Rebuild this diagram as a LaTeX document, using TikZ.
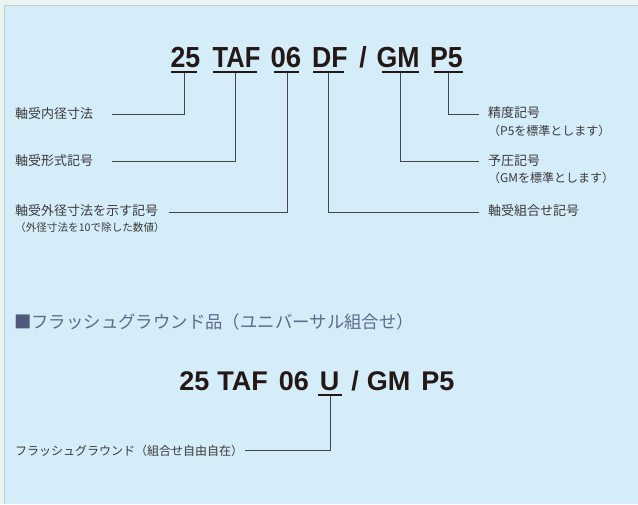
\documentclass[tikz,border=0pt]{standalone}
\usepackage{fontspec}
\newfontfamily\jp{Noto Sans CJK JP}
\newfontfamily\codef{Liberation Sans}
\definecolor{outc}{HTML}{EAF5F3}
\definecolor{panelc}{HTML}{D5ECF9}
\definecolor{borderc}{HTML}{C5CDCD}
\definecolor{inkc}{HTML}{231815}
\definecolor{labc}{HTML}{3A3A3A}
\definecolor{linec}{HTML}{454545}
\definecolor{headc}{HTML}{5D6B89}
\definecolor{sqc}{HTML}{4F5A7B}
\begin{document}
\begin{tikzpicture}[x=1pt,y=-1pt,
  lab/.style={anchor=west,inner sep=0pt,text=labc,font=\jp\fontsize{13}{15}\selectfont},
  sublab/.style={anchor=west,inner sep=0pt,text=labc,font=\jp\fontsize{12}{14}\selectfont},
  smalllab/.style={anchor=west,inner sep=0pt,text=labc,font=\jp\fontsize{10.6}{12}\selectfont},
  tok/.style={anchor=base,inner sep=0pt,text=inkc,font=\codef\bfseries\fontsize{29}{32}\selectfont},
  tokb/.style={anchor=base,inner sep=0pt,text=inkc,font=\codef\bfseries\fontsize{27}{30}\selectfont},
  conn/.style={draw=linec,line width=0.9pt},
  ul/.style={draw=inkc,line width=2pt}]
\useasboundingbox (0,0) rectangle (638,504);
\fill[outc] (0,0) rectangle (638,504);
\fill[panelc] (4,5) rectangle (638,504);
\draw[borderc,line width=1pt] (4.5,504) -- (4.5,5.5) -- (638,5.5);

% top code
\node[tok] (t25) at (185.5,67) {\scalebox{0.92}[1]{25}};
\node[tok] (tTAF) at (236.5,67) {\scalebox{0.88}[1]{TAF}};
\node[tok] (t06) at (286,67) {\scalebox{0.95}[1]{06}};
\node[tok] (tDF) at (330,67) {\scalebox{0.92}[1]{DF}};
\node[tok] (tsl) at (363,67) {\scalebox{0.92}[1]{/}};
\node[tok] (tGM) at (398,67) {\scalebox{0.92}[1]{GM}};
\node[tok] (tP5) at (446.5,67) {\scalebox{0.92}[1]{P5}};

\draw[ul] (171,72) -- (197,72);
\draw[ul] (213,72) -- (257,72);
\draw[ul] (274,72) -- (299,72);
\draw[ul] (313,72) -- (344,72);
\draw[ul] (382,72) -- (419,72);
\draw[ul] (434,72) -- (463,72);

\coordinate (u25) at (184,73);
\coordinate (uTAF) at (235,73);
\coordinate (u06) at (287,73);
\coordinate (uDF) at (328,73);
\coordinate (uGM) at (400,73);
\coordinate (uP5) at (448,73);

\coordinate (e25) at (112,114);
\coordinate (eTAF) at (112,161);
\coordinate (e06) at (169,212);
\coordinate (eP5) at (479,114);
\coordinate (eGM) at (479,161);
\coordinate (eDF) at (479,212);

\draw[conn] (u25) |- (e25);
\draw[conn] (uTAF) |- (eTAF);
\draw[conn] (u06) |- (e06);
\draw[conn] (uP5) |- (eP5);
\draw[conn] (uGM) |- (eGM);
\draw[conn] (uDF) |- (eDF);

\node[lab] (l25) at (15,113.5) {軸受内径寸法};
\node[lab] (lTAF) at (15,161) {軸受形式記号};
\node[lab] (l06) at (15,211) {軸受外径寸法を示す記号};
\node[smalllab] (l06s) at (15,227) {（外径寸法を10で除した数値）};
\node[lab] (lP5) at (488,113) {精度記号};
\node[sublab] (lP5s) at (488,130.5) {（P5を標準とします）};
\node[lab] (lGM) at (488,160.5) {予圧記号};
\node[sublab] (lGMs) at (488,178) {（GMを標準とします）};
\node[lab] (lDF) at (488,211) {軸受組合せ記号};

% heading
\node[anchor=west,inner sep=0pt,text=headc,font=\jp\fontsize{17.4}{20}\selectfont] (head) at (14,322)
  {\textcolor{sqc}{■}フラッシュグラウンド品（ユニバーサル組合せ）};

% bottom code
\node[tokb] (b25) at (194.5,390) {25};
\node[tokb] (bTAF) at (242.5,390) {TAF};
\node[tokb] (b06) at (294,390) {06};
\node[tokb] (bU) at (329.5,390) {U};
\node[tokb] (bsl) at (355,390) {/};
\node[tokb] (bGM) at (388.5,390) {GM};
\node[tokb] (bP5) at (438,390) {P5};
\draw[ul] (318,395) -- (342,395);
\coordinate (uU) at (330,396);
\coordinate (eU) at (245,450);
\draw[conn] (uU) |- (eU);
\node[sublab] (lU) at (15,451) {フラッシュグラウンド（組合せ自由自在）};
\end{tikzpicture}
\end{document}
